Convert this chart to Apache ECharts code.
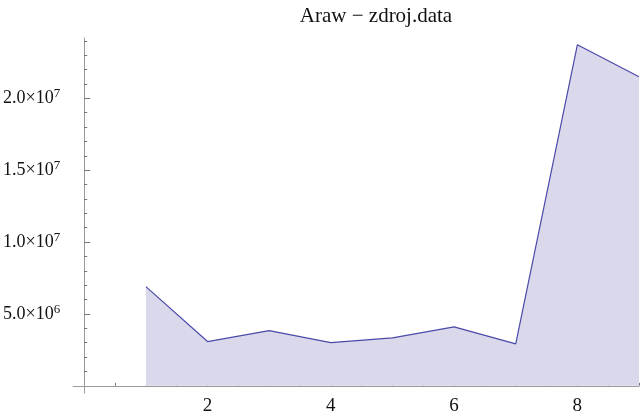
<!DOCTYPE html>
<html>
<head>
<meta charset="utf-8">
<script src="https://cdn.jsdelivr.net/npm/echarts@6/dist/echarts.min.js"></script>
<style>
  html, body { margin: 0; padding: 0; background: #fff; }
  #chart { width: 644px; height: 417px; }
</style>
</head>
<body>
<div id="chart"></div>
<script>
// Araw values per sample index from zdroj.data
var sampleIndex = [1, 2, 3, 4, 5, 6, 7, 8, 9];
var arawValues = [6.9e6, 3.08e6, 3.84e6, 3.0e6, 3.33e6, 4.1e6, 2.92e6, 2.373e7, 2.15e7];

// Tick positions
var xMajorTicks = [2, 4, 6, 8];
var xMinorTicks = [0.5, 1, 1.5, 2, 2.5, 3, 3.5, 4, 4.5, 5, 5.5, 6, 6.5, 7, 7.5, 8, 8.5, 9];
var yMajorTicks = [5e6, 1e7, 1.5e7, 2e7];
var yMinorTicks = [1e6, 2e6, 3e6, 4e6, 5e6, 6e6, 7e6, 8e6, 9e6, 1e7, 1.1e7, 1.2e7, 1.3e7, 1.4e7,
                   1.5e7, 1.6e7, 1.7e7, 1.8e7, 1.9e7, 2e7, 2.1e7, 2.2e7, 2.3e7, 2.4e7];

var SERIF = '"Liberation Serif", "DejaVu Serif", serif';
var AXIS_GRAY = '#9a9a9a';

// Scientific-notation tick label: mantissa "×10" with a raised exponent
function sciLabel(v) {
  var exp = Math.floor(Math.log10(v) + 1e-9);
  var mant = v / Math.pow(10, exp);
  return '{m|' + mant.toFixed(1) + '\u00d710}{s|' + exp + '}';
}

var data = sampleIndex.map(function (x, i) { return [x, arawValues[i]]; });

var chart = echarts.init(document.getElementById('chart'), null, { renderer: 'canvas' });

var xBase = { type: 'value', min: -0.18, max: 9, splitLine: { show: false }, gridIndex: 0 };
var yBase = { type: 'value', min: -0.5e6, max: 2.42e7, splitLine: { show: false }, gridIndex: 0 };

chart.setOption({
  animation: false,
  backgroundColor: '#ffffff',
  title: {
    text: 'Araw \u2212 zdroj.data',
    left: 376,
    top: 6,
    padding: 0,
    textAlign: 'center',
    textStyle: { fontFamily: SERIF, fontSize: 21, fontWeight: 'normal', color: '#111' }
  },
  grid: { left: 73, right: 5, top: 38, bottom: 24, containLabel: false },
  xAxis: [
    Object.assign({}, xBase, {
      position: 'bottom',
      axisLine: { show: true, onZero: true, lineStyle: { color: AXIS_GRAY, width: 1 } },
      axisTick: { show: true, inside: true, length: 3, customValues: xMinorTicks, lineStyle: { color: '#777' } },
      axisLabel: { show: false }
    }),
    Object.assign({}, xBase, {
      position: 'bottom',
      axisLine: { show: false, onZero: true },
      axisTick: { show: true, inside: true, length: 6, customValues: xMajorTicks, lineStyle: { color: '#777' } },
      axisLabel: {
        show: true, customValues: xMajorTicks, margin: 4,
        fontFamily: SERIF, fontSize: 19, color: '#111'
      }
    })
  ],
  yAxis: [
    Object.assign({}, yBase, {
      position: 'left',
      axisLine: { show: true, onZero: true, lineStyle: { color: AXIS_GRAY, width: 1 } },
      axisTick: { show: true, inside: true, length: 3, customValues: yMinorTicks, lineStyle: { color: '#777' } },
      axisLabel: { show: false }
    }),
    Object.assign({}, yBase, {
      position: 'left',
      axisLine: { show: false, onZero: true },
      axisTick: { show: true, inside: true, length: 6, customValues: yMajorTicks, lineStyle: { color: '#777' } },
      axisLabel: {
        show: true, customValues: yMajorTicks, margin: 13,
        formatter: sciLabel,
        rich: {
          m: { fontFamily: SERIF, fontSize: 18, color: '#111', lineHeight: 22 },
          s: { fontFamily: SERIF, fontSize: 13, color: '#111', verticalAlign: 'top', lineHeight: 12 }
        }
      }
    })
  ],
  series: [{
    type: 'line',
    xAxisIndex: 0,
    yAxisIndex: 0,
    data: data,
    showSymbol: false,
    symbol: 'none',
    lineStyle: { color: '#4a4aa8', width: 1.2 },
    areaStyle: { color: '#d9d9eb', opacity: 1 },
    z: 1
  }]
});
</script>
</body>
</html>
